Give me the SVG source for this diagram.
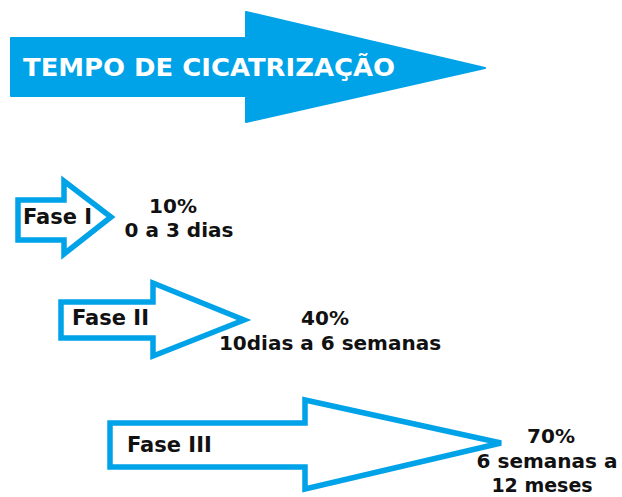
<svg xmlns="http://www.w3.org/2000/svg" width="622" height="497" viewBox="0 0 622 497">
<style>
.big{fill:#00a2e8;stroke:#00a2e8;stroke-width:2;stroke-linejoin:round}
.out{fill:#ffffff;stroke:#00a2e8;stroke-width:5.5;stroke-linejoin:miter}
.title{font-family:"DejaVu Sans",Verdana,sans-serif;font-weight:bold;font-size:25px;fill:#ffffff}
.lbl{font-family:"DejaVu Sans",Verdana,sans-serif;font-weight:bold;font-size:21px;fill:#111111}
.val{font-family:"DejaVu Sans",Verdana,sans-serif;font-weight:bold;font-size:20px;fill:#111111;text-anchor:middle}
.sm{font-size:19px}
</style>
<rect width="622" height="497" fill="#ffffff"/>
<g id="tempo">
<polygon class="big" points="11,38 246,38 246,12 485,68 246,122 246,96 11,96"/>
<text class="title" x="23" y="76" textLength="372" lengthAdjust="spacingAndGlyphs">TEMPO DE CICATRIZAÇÃO</text>
</g>
<g id="fase1">
<polygon class="out" points="18,200 64,200 64,181 111,217 64,254 64,240 18,240"/>
<text class="lbl" x="23" y="224">Fase I</text>
</g>
<g id="fase1-info">
<text class="val" x="173" y="213">10%</text>
<text class="val" x="179" y="237">0 a 3 dias</text>
</g>
<g id="fase2">
<polygon class="out" points="61,302 153,302 153,283 244,320 153,356 153,338 61,338"/>
<text class="lbl" x="72" y="325">Fase II</text>
</g>
<g id="fase2-info">
<text class="val" x="325" y="325">40%</text>
<text class="val" x="330" y="350">10dias a 6 semanas</text>
</g>
<g id="fase3">
<polygon class="out" points="110,423 305,423 305,400 501,443 305,489 305,467 110,467"/>
<text class="lbl" x="127" y="452">Fase III</text>
</g>
<g id="fase3-info">
<text class="val" x="551" y="443">70%</text>
<text class="val" x="547" y="468">6 semanas a</text>
<text class="val sm" x="542" y="492">12 meses</text>
</g>
<g id="connectors"></g>
</svg>
